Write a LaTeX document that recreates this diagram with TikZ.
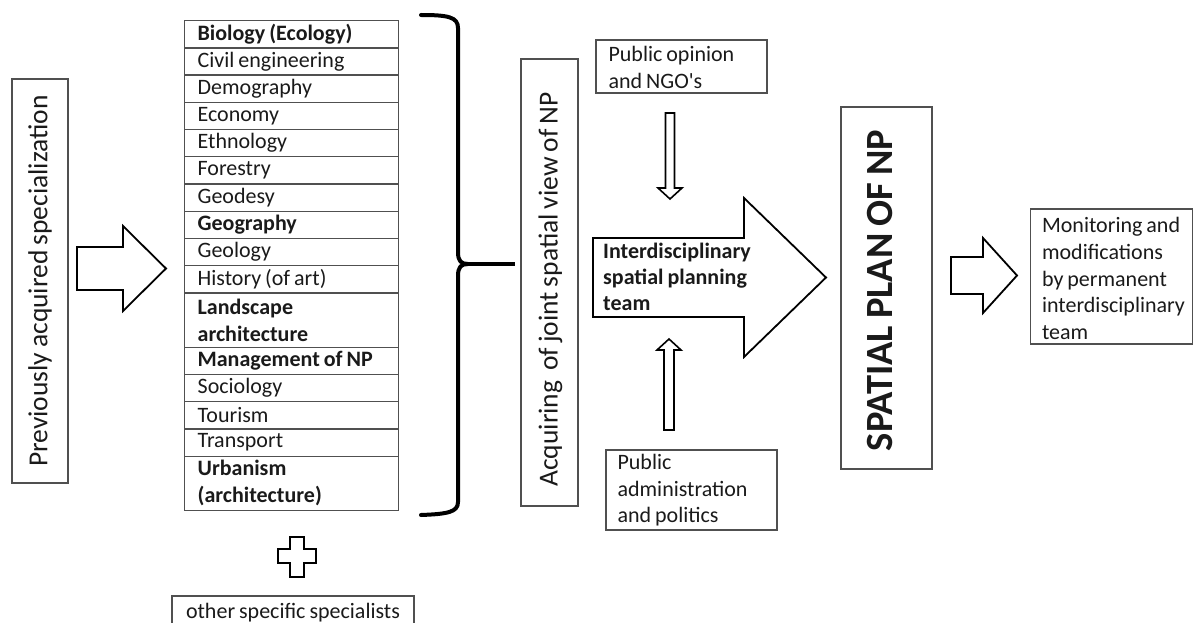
\documentclass[tikz,border=0pt]{standalone}
\usepackage{fontspec}
\setmainfont{Carlito}[WordSpace=0.8]
\usetikzlibrary{calc}
\definecolor{boxgray}{HTML}{505050}
\definecolor{txt}{HTML}{1A1A1A}
\begin{document}
\begin{tikzpicture}[x=1pt,y=-1pt,
  every node/.style={text=txt},
  txtf/.style={font=\fontsize{22}{26.5}\selectfont},
  bigf/.style={font=\fontsize{27.5}{32}\selectfont},
  plainbox/.style={draw=boxgray, line width=1.3pt},
  cell/.style={plainbox, txtf, anchor=north west, text width=188pt, inner xsep=13pt, inner ysep=0pt, minimum height=27.22pt, align=flush left},
  lefttext/.style={txtf, anchor=west, align=left, inner sep=0pt},
  blockarrow/.style={draw=black, line width=1.8pt, line join=miter, fill=white},
  bracestyle/.style={draw=black, line width=4pt, line cap=round, line join=round}
]
\useasboundingbox (0,0) rectangle (1193,623);
\def\rh{27.22}

% left box
\node[plainbox, bigf, rotate=90, minimum width=404pt, minimum height=56pt, inner sep=0pt] (prev) at (40,281) {Previously acquired specialization};

% arrow 1
\draw[blockarrow] (77,247) -- (123,247) -- (123,226) -- (166,268.5) -- (123,311) -- (123,290) -- (77,290) -- cycle;

% list
\node[cell, font=\fontsize{22}{26.5}\selectfont\bfseries] (r0) at (184,20) {Biology (Ecology)};
\node[cell] (r1) at (184,{20+1*\rh}) {Civil engineering};
\node[cell] (r2) at (184,{20+2*\rh}) {Demography};
\node[cell] (r3) at (184,{20+3*\rh}) {Economy};
\node[cell] (r4) at (184,{20+4*\rh}) {Ethnology};
\node[cell] (r5) at (184,{20+5*\rh}) {Forestry};
\node[cell] (r6) at (184,{20+6*\rh}) {Geodesy};
\node[cell, font=\fontsize{22}{26.5}\selectfont\bfseries] (r7) at (184,{20+7*\rh}) {Geography};
\node[cell] (r8) at (184,{20+8*\rh}) {Geology};
\node[cell] (r9) at (184,{20+9*\rh}) {History (of art)};
\node[cell, font=\fontsize{22}{27}\selectfont\bfseries, minimum height={2*\rh}] (r10) at (184,{20+10*\rh}) {Landscape\\architecture};
\node[cell, font=\fontsize{22}{26.5}\selectfont\bfseries] (r12) at (184,{20+12*\rh}) {Management of NP};
\node[cell] (r13) at (184,{20+13*\rh}) {Sociology};
\node[cell] (r14) at (184,{20+14*\rh}) {Tourism};
\node[cell] (r15) at (184,{20+15*\rh}) {Transport};
\node[cell, font=\fontsize{22}{27}\selectfont\bfseries, minimum height={2*\rh}] (r16) at (184,{20+16*\rh}) {Urbanism\\(architecture)};

% plus sign
\draw[draw=black, line width=1.6pt, fill=white] (290,537) -- (304,537) -- (304,549) -- (316,549) -- (316,563) -- (304,563) -- (304,577) -- (290,577) -- (290,563) -- (278,563) -- (278,549) -- (290,549) -- cycle;

% other specialists
\node[plainbox, txtf, minimum width=242pt, minimum height=34pt, inner sep=0pt] (other) at (293,613) {other specific specialists};

% brace
\draw[bracestyle] (421,15) .. controls (448,15) and (458,17) .. (458,28) -- (458,252) .. controls (458,261) and (461,264) .. (468,264);
\draw[bracestyle] (468,264) .. controls (461,264) and (458,267) .. (458,276) -- (458,502) .. controls (458,512) and (448,514) .. (421,515);
\draw[draw=black, line width=3.6pt] (464,264) -- (515,264);

% acquiring box
\node[plainbox, rotate=90, minimum width=447pt, minimum height=57pt, inner sep=0pt] (acq) at (549.5,282.5) {};
\node[bigf, rotate=90, inner sep=0pt] (acqtxt) at ($(acq.center)+(1,7)$) {Acquiring\ \ of joint spatial view of NP};

% public opinion
\node[plainbox, minimum width=171pt, minimum height=53pt] (pub) at (681.5,66.5) {};
\node[lefttext] (pubtxt) at ($(pub.west)+(13,1)$) {Public opinion\\and NGO\textquotesingle s};
% down arrow
\draw[blockarrow, line width=1.6pt] (665.5,113) -- (674.5,113) -- (674.5,188) -- (682,188) -- (670,199) -- (658,188) -- (665.5,188) -- cycle;

% big arrow
\draw[blockarrow] (593,238) -- (744,238) -- (744,198) -- (826,277.5) -- (744,357) -- (744,317) -- (593,317) -- cycle;
\node[lefttext, font=\fontsize{22}{26}\selectfont\bfseries] (team) at (603,276.5) {Interdisciplinary\\spatial planning\\team};

% up arrow
\draw[blockarrow, line width=1.6pt] (664,430) -- (674,430) -- (674,350) -- (681,350) -- (669,339) -- (657,350) -- (664,350) -- cycle;

% public administration
\node[plainbox, minimum width=171pt, minimum height=80pt] (adm) at (691.5,490) {};
\node[lefttext] (admtxt) at ($(adm.west)+(12,0.5)$) {Public\\administration\\and politics};

% spatial plan
\node[plainbox, rotate=90, minimum width=362pt, minimum height=91pt, inner sep=0pt] (plan) at (886.5,288) {};
\node[font=\fontsize{38.5}{40}\selectfont\bfseries, rotate=90, inner sep=0pt] (plantxt) at (880,290.5) {SPATIAL PLAN OF NP};

% small arrow
\draw[blockarrow] (951,257) -- (983,257) -- (983,238) -- (1017,275.5) -- (983,313) -- (983,294) -- (951,294) -- cycle;

% monitoring
\node[plainbox, minimum width=162pt, minimum height=135pt] (mon) at (1111.5,276.5) {};
\node[lefttext, font=\fontsize{22}{26.8}\selectfont] (montxt) at ($(mon.west)+(12,2)$) {Monitoring and\\modifications\\by permanent\\interdisciplinary\\team};
\end{tikzpicture}
\end{document}
